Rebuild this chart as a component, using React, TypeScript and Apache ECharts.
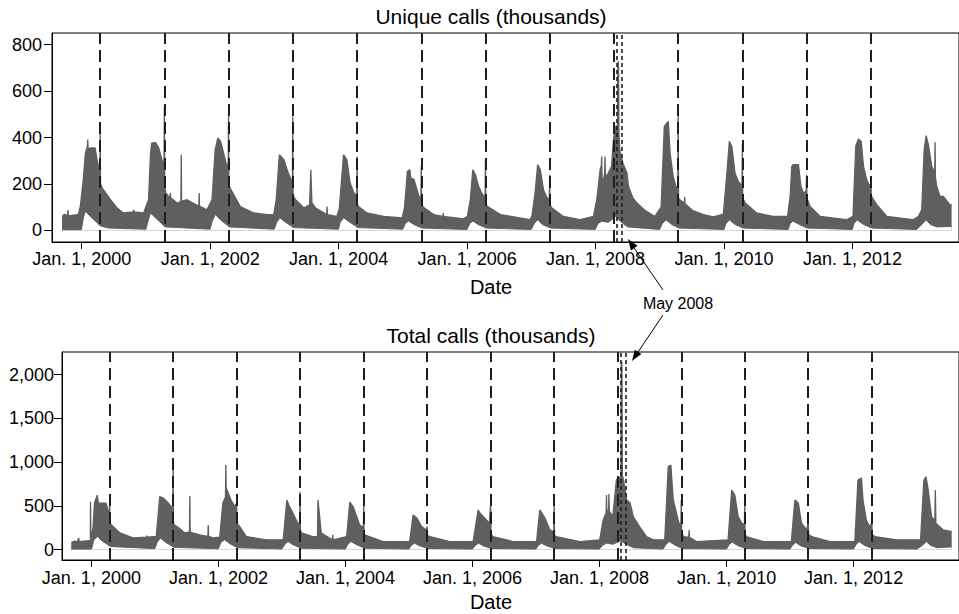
import React, { useEffect, useRef } from 'react';
import * as echarts from 'echarts';

// ---- Data (thousands of calls) ----
// Upper edge of the daily band (weekday highs / spikes), unique calls
const uniqueUpper: [string, number][] = [
  ['1999-09-11', 60], ['1999-09-25', 70], ['1999-10-12', 62], ['1999-10-15', 88], ['1999-10-18', 62], ['1999-11-15', 66], ['1999-12-12', 68], ['1999-12-24', 103],
  ['2000-01-10', 220], ['2000-01-22', 334], ['2000-02-02', 360], ['2000-02-04', 391], ['2000-02-07', 350], ['2000-02-19', 355], ['2000-03-17', 355], ['2000-03-28', 305], ['2000-04-06', 275], ['2000-04-13', 250], ['2000-04-15', 425], ['2000-04-17', 200], ['2000-04-26', 183], ['2000-06-13', 132], ['2000-07-19', 97], ['2000-08-25', 75], ['2000-10-21', 80], ['2000-10-23', 89], ['2000-10-25', 80], ['2000-12-18', 75],
  ['2001-01-15', 132], ['2001-01-26', 330], ['2001-02-02', 376], ['2001-02-24', 378], ['2001-03-14', 355], ['2001-04-01', 305], ['2001-04-13', 280], ['2001-04-15', 535], ['2001-04-17', 200], ['2001-04-23', 161], ['2001-05-17', 140], ['2001-05-19', 161], ['2001-05-21', 140], ['2001-06-28', 117], ['2001-07-18', 125], ['2001-07-20', 326], ['2001-07-22', 125], ['2001-08-22', 132], ['2001-09-27', 117], ['2001-10-28', 105], ['2001-10-30', 161], ['2001-11-01', 105], ['2001-12-13', 89],
  ['2002-01-11', 132], ['2002-01-29', 348], ['2002-02-13', 398], ['2002-02-28', 385], ['2002-03-18', 333], ['2002-04-01', 290], ['2002-04-13', 270], ['2002-04-15', 499], ['2002-04-17', 200], ['2002-04-23', 183], ['2002-06-21', 103], ['2002-09-06', 75], ['2002-11-20', 68], ['2002-12-28', 68],
  ['2003-01-11', 132], ['2003-01-29', 326], ['2003-02-24', 304], ['2003-03-14', 261], ['2003-04-01', 226], ['2003-04-13', 210], ['2003-04-15', 490], ['2003-04-17', 150], ['2003-05-01', 132], ['2003-06-18', 97], ['2003-07-20', 110], ['2003-07-27', 261], ['2003-08-02', 120], ['2003-08-22', 97], ['2003-10-25', 68], ['2003-10-27', 103], ['2003-10-29', 68], ['2003-12-22', 60],
  ['2004-01-05', 95], ['2004-01-29', 326], ['2004-02-17', 304], ['2004-03-06', 205], ['2004-03-28', 161], ['2004-04-13', 150], ['2004-04-15', 318], ['2004-04-17', 110], ['2004-04-23', 103], ['2004-06-10', 75], ['2004-09-13', 60], ['2004-12-28', 54],
  ['2005-01-10', 100], ['2005-01-26', 254], ['2005-02-09', 261], ['2005-02-14', 226], ['2005-03-04', 220], ['2005-03-22', 175], ['2005-04-01', 147], ['2005-04-13', 140], ['2005-04-15', 276], ['2005-04-17', 110], ['2005-05-01', 97], ['2005-06-25', 68], ['2005-08-16', 60], ['2005-08-18', 75], ['2005-08-20', 60], ['2005-12-11', 50],
  ['2006-01-02', 60], ['2006-01-19', 132], ['2006-02-02', 261], ['2006-02-17', 240], ['2006-03-07', 190], ['2006-03-25', 161], ['2006-04-13', 140], ['2006-04-15', 304], ['2006-04-17', 110], ['2006-04-27', 103], ['2006-07-09', 68], ['2006-12-24', 46],
  ['2007-01-04', 60], ['2007-01-22', 161], ['2007-02-06', 283], ['2007-02-21', 261], ['2007-03-11', 175], ['2007-03-28', 145], ['2007-04-13', 130], ['2007-04-15', 240], ['2007-04-17', 110], ['2007-04-27', 97], ['2007-07-02', 60], ['2007-10-05', 46], ['2007-12-20', 60],
  ['2008-01-08', 132], ['2008-01-27', 261], ['2008-02-03', 280], ['2008-02-05', 318], ['2008-02-07', 230], ['2008-02-14', 205], ['2008-02-22', 250], ['2008-02-24', 318], ['2008-02-26', 240], ['2008-03-03', 231], ['2008-04-01', 275], ['2008-04-12', 391], ['2008-04-23', 447], ['2008-05-05', 450], ['2008-05-07', 700], ['2008-05-09', 729], ['2008-05-11', 700], ['2008-05-13', 420], ['2008-05-18', 347], ['2008-06-04', 290], ['2008-06-28', 247], ['2008-07-06', 190], ['2008-08-01', 140], ['2008-08-21', 120], ['2008-10-02', 90], ['2008-12-03', 60],
  ['2009-01-08', 100], ['2009-01-26', 447], ['2009-02-09', 462], ['2009-02-18', 469], ['2009-02-28', 333], ['2009-03-18', 231], ['2009-04-02', 190], ['2009-04-13', 170], ['2009-04-15', 520], ['2009-04-17', 140], ['2009-04-24', 132], ['2009-05-20', 118], ['2009-05-22', 145], ['2009-05-24', 115], ['2009-07-08', 85], ['2009-09-05', 68], ['2009-11-01', 58], ['2009-12-28', 70],
  ['2010-01-17', 247], ['2010-01-31', 384], ['2010-02-14', 362], ['2010-03-04', 247], ['2010-03-23', 211], ['2010-04-13', 190], ['2010-04-15', 370], ['2010-04-17', 140], ['2010-05-01', 118], ['2010-07-05', 75], ['2010-10-08', 60], ['2010-12-28', 60],
  ['2011-01-12', 150], ['2011-01-21', 275], ['2011-01-28', 283], ['2011-02-28', 283], ['2011-03-14', 190], ['2011-03-28', 161], ['2011-04-13', 170], ['2011-04-15', 240], ['2011-04-17', 140], ['2011-05-05', 103], ['2011-07-02', 60], ['2011-11-28', 46],
  ['2012-01-04', 60], ['2012-01-20', 362], ['2012-02-04', 394], ['2012-02-20', 383], ['2012-03-04', 276], ['2012-03-22', 218], ['2012-04-07', 192], ['2012-04-15', 200], ['2012-04-18', 147], ['2012-05-18', 111], ['2012-07-15', 60], ['2012-12-10', 46],
  ['2013-01-10', 60], ['2013-01-29', 89], ['2013-02-12', 348], ['2013-02-23', 408], ['2013-03-08', 369], ['2013-03-27', 276], ['2013-04-13', 250], ['2013-04-15', 379], ['2013-04-17', 230], ['2013-04-24', 190], ['2013-05-13', 147], ['2013-06-01', 146], ['2013-07-08', 111], ['2013-07-18', 110],
];

// Lower edge of the band (weekend lows), unique calls
const uniqueLower: [string, number][] = [
  ['1999-09-11', 3], ['1999-12-30', 3], ['2000-01-12', 60], ['2000-01-22', 82], ['2000-02-20', 60], ['2000-04-15', 20], ['2000-06-01', 10], ['2000-12-31', 5],
  ['2001-01-12', 40], ['2001-01-26', 75], ['2001-03-01', 50], ['2001-04-20', 15], ['2001-12-31', 5],
  ['2002-01-12', 40], ['2002-01-30', 68], ['2002-03-01', 45], ['2002-04-20', 15], ['2002-12-31', 5],
  ['2003-01-14', 35], ['2003-02-01', 54], ['2003-03-05', 35], ['2003-04-20', 12], ['2003-12-31', 5],
  ['2004-01-10', 35], ['2004-01-30', 54], ['2004-03-05', 35], ['2004-04-20', 12], ['2004-12-31', 5],
  ['2005-01-14', 30], ['2005-02-01', 40], ['2005-03-05', 25], ['2005-04-20', 10], ['2005-12-31', 4],
  ['2006-01-16', 30], ['2006-02-03', 40], ['2006-03-05', 25], ['2006-04-20', 10], ['2006-12-31', 4],
  ['2007-01-18', 30], ['2007-02-06', 46], ['2007-03-05', 25], ['2007-04-20', 10], ['2007-12-31', 4],
  ['2008-01-15', 30], ['2008-02-05', 39], ['2008-03-15', 35], ['2008-04-25', 60], ['2008-05-20', 40], ['2008-07-01', 15], ['2008-12-31', 4],
  ['2009-01-15', 30], ['2009-02-05', 45], ['2009-03-10', 25], ['2009-04-20', 10], ['2009-12-31', 4],
  ['2010-01-12', 30], ['2010-02-01', 45], ['2010-03-05', 25], ['2010-04-20', 10], ['2010-12-31', 4],
  ['2011-01-12', 30], ['2011-01-28', 40], ['2011-03-05', 25], ['2011-04-20', 10], ['2011-12-31', 4],
  ['2012-01-10', 30], ['2012-01-28', 45], ['2012-03-05', 25], ['2012-04-20', 10], ['2012-12-31', 4],
  ['2013-02-05', 30], ['2013-02-23', 45], ['2013-03-20', 25], ['2013-04-25', 15], ['2013-07-18', 17],
];

// Upper edge of the band, total calls
const totalUpper: [string, number][] = [
  ['1999-09-07', 80], ['1999-09-25', 95], ['1999-10-12', 88], ['1999-10-20', 133], ['1999-10-23', 90], ['1999-11-15', 95], ['1999-12-20', 100], ['1999-12-26', 100], ['1999-12-27', 547], ['1999-12-29', 110],
  ['2000-01-10', 250], ['2000-01-19', 531], ['2000-02-04', 623], ['2000-02-10', 531], ['2000-03-25', 531], ['2000-04-05', 452], ['2000-04-13', 420], ['2000-04-15', 566], ['2000-04-17', 300], ['2000-05-05', 262], ['2000-06-13', 189], ['2000-08-27', 133], ['2000-11-12', 140], ['2000-11-14', 160], ['2000-11-16', 140], ['2001-01-08', 150],
  ['2001-01-28', 604], ['2001-02-17', 589], ['2001-03-18', 531], ['2001-04-05', 490], ['2001-04-13', 470], ['2001-04-15', 965], ['2001-04-17', 300], ['2001-04-23', 281], ['2001-05-23', 240], ['2001-06-21', 189], ['2001-07-18', 200], ['2001-07-20', 612], ['2001-07-22', 200], ['2001-08-07', 189], ['2001-09-15', 167], ['2001-11-01', 150], ['2001-11-03', 281], ['2001-11-05', 150], ['2001-12-01', 133],
  ['2002-01-08', 140], ['2002-01-26', 531], ['2002-02-10', 600], ['2002-02-12', 965], ['2002-02-14', 703], ['2002-03-14', 566], ['2002-04-05', 490], ['2002-04-15', 531], ['2002-04-17', 300], ['2002-05-03', 262], ['2002-06-10', 148], ['2002-10-03', 111], ['2003-01-08', 111],
  ['2003-01-29', 566], ['2003-02-13', 490], ['2003-03-05', 418], ['2003-04-01', 304], ['2003-04-13', 290], ['2003-04-15', 661], ['2003-04-17', 220], ['2003-04-23', 189], ['2003-06-28', 148], ['2003-07-24', 150], ['2003-07-27', 566], ['2003-08-15', 189], ['2003-10-18', 111], ['2003-10-20', 167], ['2003-10-22', 111], ['2004-01-08', 148],
  ['2004-01-26', 543], ['2004-02-14', 490], ['2004-03-23', 281], ['2004-04-13', 250], ['2004-04-15', 547], ['2004-04-17', 180], ['2004-04-20', 167], ['2004-08-04', 91], ['2005-01-04', 91],
  ['2005-01-24', 395], ['2005-02-14', 361], ['2005-03-14', 262], ['2005-04-10', 224], ['2005-04-15', 262], ['2005-04-17', 160], ['2005-05-01', 148], ['2005-08-22', 91], ['2006-01-04', 91],
  ['2006-02-02', 452], ['2006-02-12', 418], ['2006-04-08', 300], ['2006-04-15', 531], ['2006-04-17', 180], ['2006-04-27', 148], ['2006-08-22', 91], ['2007-01-04', 91],
  ['2007-01-22', 452], ['2007-02-21', 361], ['2007-03-22', 224], ['2007-04-13', 200], ['2007-04-15', 531], ['2007-04-17', 160], ['2007-04-27', 148], ['2007-09-09', 91], ['2008-01-02', 111],
  ['2008-01-22', 338], ['2008-02-08', 420], ['2008-02-10', 623], ['2008-02-12', 452], ['2008-02-22', 440], ['2008-02-24', 635], ['2008-02-26', 440], ['2008-03-17', 376], ['2008-04-07', 794], ['2008-04-15', 817], ['2008-05-03', 830], ['2008-05-05', 2100], ['2008-05-07', 2143], ['2008-05-09', 2100], ['2008-05-11', 850], ['2008-05-18', 794], ['2008-06-05', 566], ['2008-06-25', 531], ['2008-07-13', 376], ['2008-08-18', 262], ['2008-09-27', 148], ['2008-11-05', 111], ['2009-01-10', 111],
  ['2009-01-30', 946], ['2009-02-14', 965], ['2009-02-28', 566], ['2009-03-18', 418], ['2009-04-01', 304], ['2009-04-13', 280], ['2009-04-15', 566], ['2009-04-17', 200], ['2009-04-27', 148], ['2009-05-28', 140], ['2009-05-30', 224], ['2009-06-01', 140], ['2009-07-12', 91], ['2010-01-09', 111],
  ['2010-01-30', 680], ['2010-02-17', 623], ['2010-03-08', 376], ['2010-03-28', 304], ['2010-04-13', 280], ['2010-04-15', 531], ['2010-04-17', 180], ['2010-04-23', 148], ['2010-07-31', 91], ['2011-01-08', 91],
  ['2011-01-28', 566], ['2011-02-17', 531], ['2011-03-07', 304], ['2011-04-05', 224], ['2011-04-15', 304], ['2011-04-17', 170], ['2011-05-05', 148], ['2011-08-19', 91], ['2012-01-08', 91],
  ['2012-01-26', 794], ['2012-02-15', 817], ['2012-02-24', 566], ['2012-03-14', 338], ['2012-04-01', 262], ['2012-04-15', 304], ['2012-04-17', 170], ['2012-05-02', 148], ['2012-09-05', 111], ['2013-01-20', 111],
  ['2013-02-08', 794], ['2013-02-20', 832], ['2013-03-05', 680], ['2013-03-24', 376], ['2013-04-12', 330], ['2013-04-15', 680], ['2013-04-18', 300], ['2013-05-30', 224], ['2013-07-18', 205],
];

// Lower edge of the band, total calls
const totalLower: [string, number][] = [
  ['1999-09-07', 5], ['2000-01-02', 5], ['2000-01-15', 110], ['2000-02-05', 148], ['2000-03-01', 100], ['2000-04-20', 34], ['2000-12-31', 10],
  ['2001-01-15', 90], ['2001-02-01', 130], ['2001-03-05', 80], ['2001-04-20', 25], ['2001-12-31', 8],
  ['2002-01-15', 80], ['2002-02-05', 111], ['2002-03-05', 70], ['2002-04-20', 20], ['2002-12-31', 6],
  ['2003-01-18', 60], ['2003-02-05', 91], ['2003-03-05', 55], ['2003-04-20', 15], ['2003-12-31', 5],
  ['2004-01-15', 60], ['2004-02-01', 91], ['2004-03-05', 55], ['2004-04-20', 15], ['2004-12-31', 5],
  ['2005-01-15', 50], ['2005-02-01', 72], ['2005-03-05', 40], ['2005-04-20', 12], ['2005-12-31', 5],
  ['2006-01-18', 50], ['2006-02-05', 72], ['2006-03-05', 40], ['2006-04-20', 12], ['2006-12-31', 5],
  ['2007-01-15', 50], ['2007-02-01', 72], ['2007-03-05', 40], ['2007-04-20', 12], ['2007-12-31', 5],
  ['2008-01-20', 50], ['2008-02-10', 72], ['2008-03-20', 60], ['2008-05-01', 100], ['2008-06-01', 60], ['2008-07-15', 20], ['2008-12-31', 5],
  ['2009-01-18', 60], ['2009-02-05', 91], ['2009-03-10', 50], ['2009-04-20', 12], ['2009-12-31', 5],
  ['2010-01-15', 55], ['2010-02-01', 85], ['2010-03-05', 45], ['2010-04-20', 12], ['2010-12-31', 5],
  ['2011-01-15', 50], ['2011-02-01', 80], ['2011-03-05', 40], ['2011-04-20', 12], ['2011-12-31', 5],
  ['2012-01-15', 55], ['2012-02-01', 91], ['2012-03-05', 45], ['2012-04-20', 12], ['2012-12-31', 5],
  ['2013-02-05', 55], ['2013-02-22', 91], ['2013-03-20', 45], ['2013-04-25', 20], ['2013-07-18', 30],
];

const taxDays = [
  '2000-04-15', '2001-04-15', '2002-04-15', '2003-04-15', '2004-04-15', '2005-04-15', '2006-04-15',
  '2007-04-15', '2008-04-15', '2009-04-15', '2010-04-15', '2011-04-15', '2012-04-15',
];
const mayBounds = ['2008-05-01', '2008-05-31'];
const xTickYears = [2000, 2002, 2004, 2006, 2008, 2010, 2012];
const uniqueTicks = [0, 200, 400, 600, 800];
const totalTicks = [0, 500, 1000, 1500, 2000];

const FONT = '"Liberation Sans", Arial, Helvetica, sans-serif';
const BAND = '#5f5f5f';
const INK = '#1e1e1e';

const ts = (s: string) => Date.parse(s + 'T00:00:00Z');
const xTickValues = xTickYears.map((y) => Date.UTC(y, 0, 1));
const X_MIN = ts('1999-07-16');
const X_MAX = ts('2013-08-29');

function xAxisFor(gridIndex: number, margin: number) {
  return {
    type: 'value',
    gridIndex,
    min: X_MIN,
    max: X_MAX,
    axisLine: { show: true, onZero: false, lineStyle: { color: '#000', width: 1 } },
    axisTick: { show: true, customValues: xTickValues, length: 7, lineStyle: { color: '#000', width: 1 } },
    axisLabel: {
      customValues: xTickValues,
      formatter: (v: number) => {
        const i = xTickValues.indexOf(v);
        const y = i >= 0 ? xTickYears[i] : new Date(v).getUTCFullYear();
        return `Jan. 1, ${y}`;
      },
      color: '#000',
      fontSize: 18,
      fontFamily: FONT,
      margin,
      hideOverlap: false,
    },
    splitLine: { show: false },
  };
}

function yAxisFor(gridIndex: number, min: number, max: number, ticks: number[], margin: number) {
  return {
    type: 'value',
    gridIndex,
    min,
    max,
    axisLine: { show: true, onZero: false, lineStyle: { color: '#000', width: 1 } },
    axisTick: { show: true, customValues: ticks, length: 8, lineStyle: { color: '#000', width: 1 } },
    axisLabel: {
      customValues: ticks,
      formatter: (v: number) => v.toLocaleString('en-US'),
      color: '#000',
      fontSize: 18,
      fontFamily: FONT,
      margin,
    },
    splitLine: { show: false },
  };
}

function bandSeries(upper: [string, number][], lower: [string, number][], idx: number) {
  const markData: any[] = [
    ...taxDays.map((d) => ({ xAxis: ts(d), lineStyle: { type: [12, 6], color: INK, width: 2 } })),
    ...mayBounds.map((d) => ({ xAxis: ts(d), lineStyle: { type: [4, 3], color: INK, width: 1.6 } })),
  ];
  return [
    {
      type: 'line',
      xAxisIndex: idx,
      yAxisIndex: idx,
      data: upper.map(([d, v]) => [ts(d), v]),
      showSymbol: false,
      symbol: 'none',
      lineStyle: { color: BAND, width: 1.3 },
      areaStyle: { color: BAND, opacity: 1 },
      z: 2,
      silent: true,
      emphasis: { disabled: true },
    },
    {
      type: 'line',
      xAxisIndex: idx,
      yAxisIndex: idx,
      data: lower.map(([d, v]) => [ts(d), v]),
      showSymbol: false,
      symbol: 'none',
      lineStyle: { color: BAND, width: 1 },
      areaStyle: { color: '#ffffff', opacity: 1 },
      z: 3,
      silent: true,
      emphasis: { disabled: true },
      markLine: {
        silent: true,
        symbol: ['none', 'none'],
        label: { show: false },
        animation: false,
        emphasis: { disabled: true },
        data: markData,
      },
    },
  ];
}

export default function App() {
  const ref = useRef<HTMLDivElement>(null);

  useEffect(() => {
    document.body.style.margin = '0';
    if (!ref.current) return;
    const chart = echarts.init(ref.current, undefined, { renderer: 'svg' });
    const textStyle = (size: number) => ({ fill: '#000', font: `${size}px ${FONT}`, textAlign: 'center', textVerticalAlign: 'middle' });
    chart.setOption({
      animation: false,
      backgroundColor: '#ffffff',
      grid: [
        { left: 52, top: 33, right: -2, height: 209, show: true, borderColor: '#000', borderWidth: 1, containLabel: false },
        { left: 62, top: 352, right: -2, height: 208, show: true, borderColor: '#000', borderWidth: 1, containLabel: false },
      ],
      xAxis: [xAxisFor(0, 8), xAxisFor(1, 9)],
      yAxis: [yAxisFor(0, -50, 850, uniqueTicks, 10), yAxisFor(1, -120, 2258, totalTicks, 8)],
      series: [...bandSeries(uniqueUpper, uniqueLower, 0), ...bandSeries(totalUpper, totalLower, 1)],
      graphic: [
        { type: 'text', x: 491, y: 16, style: { text: 'Unique calls (thousands)', ...textStyle(21) } },
        { type: 'text', x: 491, y: 287, style: { text: 'Date', ...textStyle(20) } },
        { type: 'text', x: 491, y: 335, style: { text: 'Total calls (thousands)', ...textStyle(21) } },
        { type: 'text', x: 491, y: 602, style: { text: 'Date', ...textStyle(20) } },
        { type: 'text', x: 678, y: 303, style: { text: 'May 2008', ...textStyle(16) } },
        { type: 'line', shape: { x1: 663, y1: 290, x2: 634.2, y2: 248.1 }, style: { stroke: '#000', lineWidth: 1 }, z: 10 },
        { type: 'polygon', shape: { points: [[628, 239], [637.5, 245.8], [630.9, 250.4]] }, style: { fill: '#000' }, z: 10 },
        { type: 'line', shape: { x1: 663, y1: 315, x2: 638.1, y2: 351.9 }, style: { stroke: '#000', lineWidth: 1 }, z: 10 },
        { type: 'polygon', shape: { points: [[632, 361], [634.8, 349.7], [641.4, 354.1]] }, style: { fill: '#000' }, z: 10 },
      ],
    });
    return () => chart.dispose();
  }, []);

  return <div ref={ref} style={{ width: 959, height: 614 }} />;
}
